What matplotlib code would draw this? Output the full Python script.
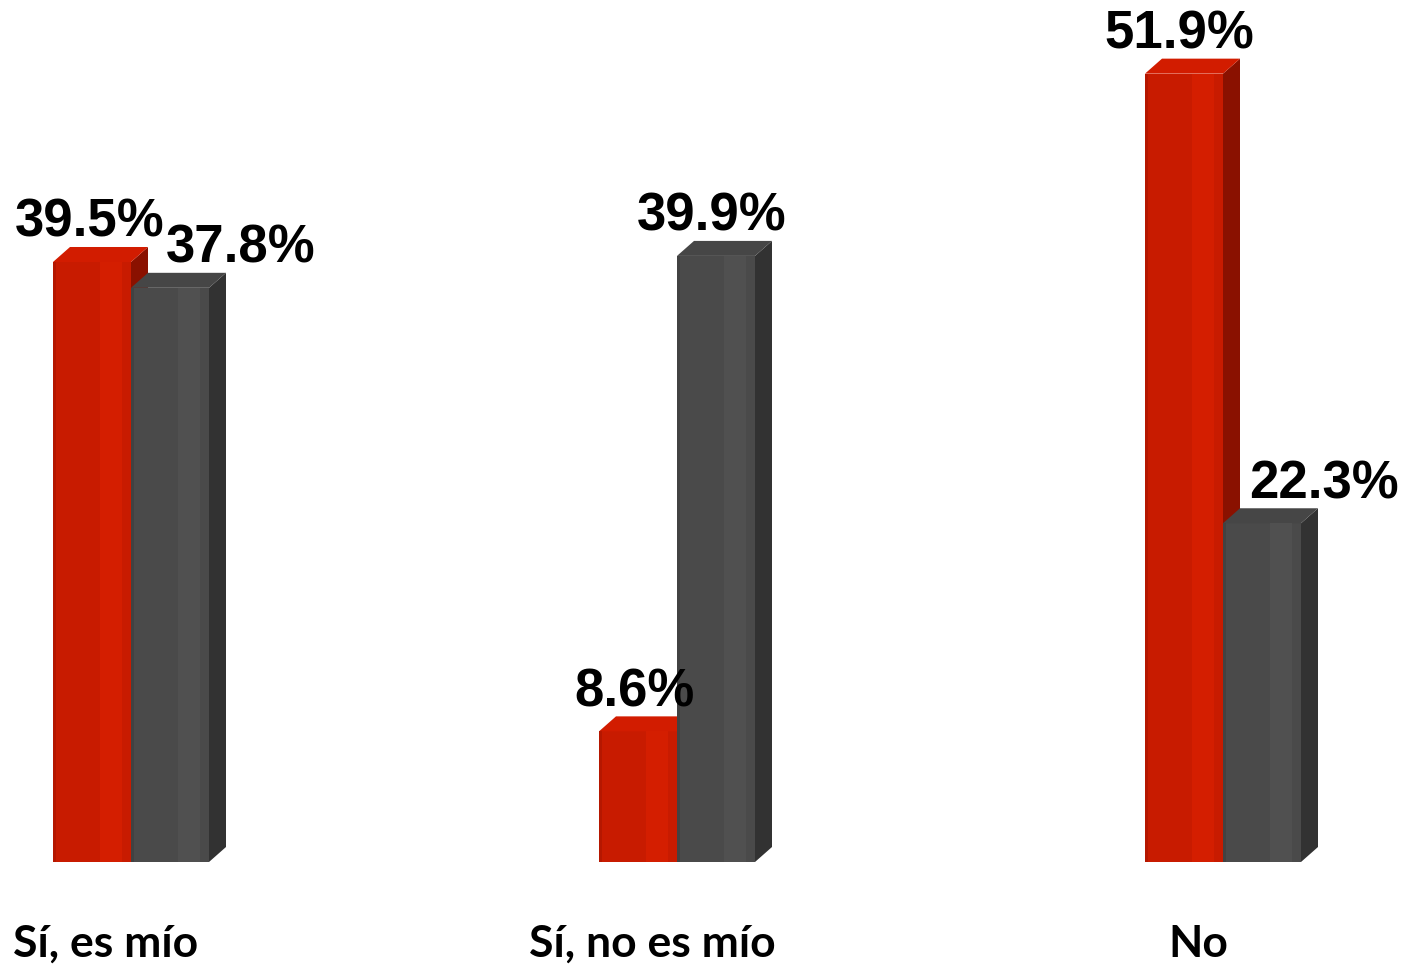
import matplotlib.pyplot as plt
from matplotlib.patches import Polygon, Rectangle

# datos
categorias = ['Sí, es mío', 'Sí, no es mío', 'No']
serie_roja = [39.5, 8.6, 51.9]
serie_gris = [37.8, 39.9, 22.3]

# estilos: (frente, brillo, lado, tapa)
estilo_rojo = ('#c81b00', '#d41e00', '#8a1100', '#d21c00')
estilo_gris = ('#4a4a4a', '#505050', '#323232', '#464646')

# desplazamientos de etiqueta en px (x)
desp_rojo = [-10, -12, -13]
desp_gris = [63, -12, 54]

fig = plt.figure(figsize=(14.08, 9.66), dpi=100)
ax = fig.add_axes([0, 0, 1, 1])

px_x = 1 / 546.0      # unidades de datos por pixel en x
px_y = 1 / 15.19      # unidades de datos por pixel en y
ax.set_xlim(-131 * px_x, (1408 - 131) * px_x)
ax.set_ylim(-(966 - 862) * px_y, 862 * px_y)
ax.axis('off')

ancho = 78 * px_x
dx = 17 * px_x
dy = 15 * px_y


def dibujar(valores, offset, estilo, z, desp):
    frente, brillo, lado, tapa = estilo
    barras = ax.bar([i + offset for i in range(len(valores))], valores,
                    width=ancho, align='edge', color=frente, zorder=z)
    for b, v, d in zip(barras, valores, desp):
        x0 = b.get_x()
        w = b.get_width()
        h = b.get_height()
        # brillo en la cara frontal
        ax.add_patch(Rectangle((x0 + w * 0.6, 0), w * 0.28, h,
                               color=brillo, zorder=z + 0.1, lw=0))
        ax.add_patch(Rectangle((x0, 0), w * 0.04, h,
                               color=lado, alpha=0.3, zorder=z + 0.1, lw=0))
        # cara lateral
        ax.add_patch(Polygon([(x0 + w, 0), (x0 + w + dx, dy),
                              (x0 + w + dx, h + dy), (x0 + w, h)],
                             closed=True, color=lado, zorder=z, lw=0))
        # tapa
        ax.add_patch(Polygon([(x0, h), (x0 + dx, h + dy),
                              (x0 + w + dx, h + dy), (x0 + w, h)],
                             closed=True, color=tapa, zorder=z, lw=0))
        ax.text(x0 + w / 2 + (8 + d) * px_x, h + 25 * px_y, f'{v}%',
                ha='center', va='baseline', fontsize=38, fontweight='bold',
                family='Liberation Sans', color='black', zorder=10)


dibujar(serie_roja, -ancho, estilo_rojo, 2, desp_rojo)
dibujar(serie_gris, 0, estilo_gris, 3, desp_gris)

for i, c in enumerate(categorias):
    ax.text(i - 25 * px_x, -(957 - 862) * px_y, c, ha='center', va='baseline',
            fontsize=32, fontweight='bold', family='Lato', color='black')

fig.savefig('out.png', dpi=100)
